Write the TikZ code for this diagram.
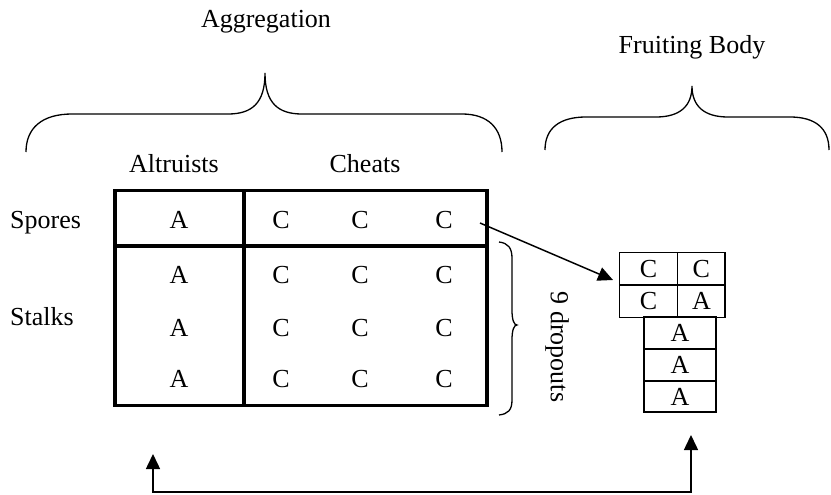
\documentclass[tikz,border=0pt]{standalone}
\usepackage{fontspec}
\setmainfont{Liberation Serif}
\usetikzlibrary{arrows.meta}
\begin{document}
\begin{tikzpicture}[x=1pt,y=-1pt,
  txt/.style={inner sep=0pt,font=\fontsize{26}{30}\selectfont},
  btxt/.style={txt,anchor=base},
  thick box/.style={line width=3.5pt},
  thin line/.style={line width=1.3pt},
  brace/.style={line width=1.3pt},
  fcell/.style={draw,line width=1.4pt,inner sep=0pt,minimum height=32.5pt,font=\fontsize{26}{30}\selectfont},
  arr/.style={line width=1.5pt,-{Triangle[length=15pt,width=14pt]}},
  arr2/.style={line width=1.5pt,{Triangle[length=15pt,width=14pt]}-{Triangle[length=15pt,width=14pt]}}]
\useasboundingbox (0,0) rectangle (831,495);

% titles
\node[btxt] (agg) at (266,28) {Aggregation};
\node[btxt] (fb) at (692,54) {Fruiting Body};

% big brace
\draw[brace] (26,152) .. controls (26,128) and (42,114) .. (72,114)
  -- (228,114) .. controls (252,114) and (265,103) .. (265,73)
  .. controls (265,103) and (278,114) .. (302,114)
  -- (462,114) .. controls (488,114) and (502,128) .. (502,152);
% small brace
\draw[brace] (545,150) .. controls (545,128) and (560,117) .. (586,117)
  -- (656,117) .. controls (680,117) and (692,106) .. (692,86)
  .. controls (692,106) and (704,117) .. (728,117)
  -- (790,117) .. controls (815,117) and (829,128) .. (829,150);

% column headers
\node[btxt] (alt) at (174,172) {Altruists};
\node[btxt] (che) at (365,172) {Cheats};
% row labels
\node[txt,anchor=base west] (spo) at (10,228) {Spores};
\node[txt,anchor=base west] (sta) at (10,325) {Stalks};

% table
\draw[thick box] (115,190.5) rectangle (487,405.5);
\draw[thick box] (115,246) -- (487,246);
\draw[thick box] (244,190.5) -- (244,405.5);

% table entries
\foreach \r/\y in {1/228,2/283,3/336,4/387}{
  \node[btxt] (a\r) at (179,\y) {A};
  \node[btxt] (c\r1) at (281,\y) {C};
  \node[btxt] (c\r2) at (360,\y) {C};
  \node[btxt] (c\r3) at (444,\y) {C};
}

% vertical brace
\draw[brace] (499,242) .. controls (508,243) and (512,248) .. (512,258)
  -- (512,310) .. controls (512,320) and (514,325) .. (517,325)
  .. controls (514,325) and (512,330) .. (512,340)
  -- (512,400) .. controls (512,410) and (508,414) .. (499,415);
\node[txt,rotate=-90] (drop) at (557,347) {9 dropouts};

% fruiting body grid
\node[fcell,minimum width=58.5pt] (f11) at (648.5,268.6) {C};
\node[fcell,minimum width=47.5pt] (f12) at (701.4,268.6) {C};
\node[fcell,minimum width=58.5pt] (f21) at (648.5,301) {C};
\node[fcell,minimum width=47.5pt] (f22) at (701.4,301) {A};
\node[fcell,minimum width=72pt,minimum height=32pt] (g1) at (680,333) {A};
\node[fcell,minimum width=72pt,minimum height=32pt] (g2) at (680,365) {A};
\node[fcell,minimum width=72pt,minimum height=31pt] (g3) at (680,396.5) {A};

% arrow spores -> fruiting body
\coordinate (aS) at (480,223);
\coordinate (aT) at (613,280);
\draw[arr] (aS) -- (aT);

% return arrow
\coordinate (retL) at (153,454);
\coordinate (retR) at (691,435);
\coordinate (bot) at (0,492);
\draw[arr2] (retL) -- (retL |- bot) -- (retR |- bot) -- (retR);
\end{tikzpicture}
\end{document}
